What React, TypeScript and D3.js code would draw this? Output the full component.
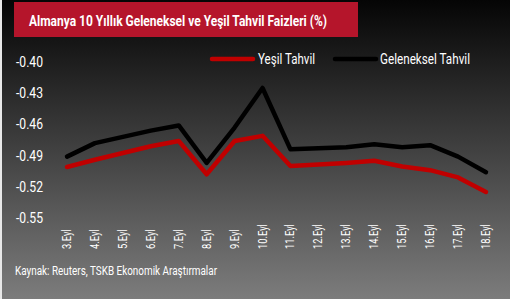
import React from "react";
import * as d3 from "d3";

const categories = ["3.Eyl","4.Eyl","5.Eyl","6.Eyl","7.Eyl","8.Eyl","9.Eyl","10.Eyl","11.Eyl","12.Eyl","13.Eyl","14.Eyl","15.Eyl","16.Eyl","17.Eyl","18.Eyl"];
const yesil = [-0.501,-0.494,-0.4875,-0.481,-0.476,-0.508,-0.476,-0.471,-0.500,-0.4985,-0.497,-0.495,-0.5005,-0.504,-0.511,-0.525];
const geleneksel = [-0.491,-0.478,-0.472,-0.466,-0.461,-0.497,-0.463,-0.425,-0.484,-0.483,-0.482,-0.479,-0.482,-0.480,-0.491,-0.506];
const yTicks = [-0.40,-0.43,-0.46,-0.49,-0.52,-0.55];
const title = "Almanya 10 Yıllık Geleneksel ve Yeşil Tahvil Faizleri (%)";
const source = "Kaynak: Reuters, TSKB Ekonomik Araştırmalar";
const seriesNames = ["Yeşil Tahvil", "Geleneksel Tahvil"];

const W = 510, H = 299;
const FONT = "Roboto, 'Liberation Sans', sans-serif";

export default function App() {
  const x = d3.scalePoint<string>().domain(categories).range([67, 486]);
  const y = d3.scaleLinear().domain([-0.55, -0.40]).range([218, 62]);
  const line = d3.line<number>().x((_, i) => x(categories[i])!).y(d => y(d));
  return (
    <svg width={W} height={H} style={{ position: "absolute", left: 0, top: 0, display: "block" }}>
      <defs>
        <linearGradient id="bg" x1="0" y1="0" x2="0" y2="1">
          <stop offset="0" stopColor="#050505" />
          <stop offset="1" stopColor="#7c7c7c" />
        </linearGradient>
      </defs>
      <rect x={0} y={0} width={W} height={H} fill="url(#bg)" />
      <rect x={0} y={0} width={2} height={H} fill="#e8e8e8" />
      <rect x={14} y={2} width={344} height={35} fill="#b5152b" />
      <text x={29} y={26} fill="#fff" fontFamily={FONT} fontWeight="bold" fontSize={15} textLength={298} lengthAdjust="spacingAndGlyphs">{title}</text>
      {yTicks.map(t => (
        <text key={t} x={16} y={y(t) + 5} fill="#fff" fontFamily={FONT} fontSize={14} textLength={27} lengthAdjust="spacingAndGlyphs">{t.toFixed(2)}</text>
      ))}
      {categories.map(c => (
        <text key={c} transform={`translate(${x(c)! + 4},249) rotate(-90) scale(0.78,1)`} textAnchor="start" fill="#fff" fontFamily={FONT} fontSize={12}>{c}</text>
      ))}
      <path d={line(geleneksel)!} fill="none" stroke="#000" strokeWidth={4.5} strokeLinecap="round" strokeLinejoin="round" />
      <path d={line(yesil)!} fill="none" stroke="#c00000" strokeWidth={4.5} strokeLinecap="round" strokeLinejoin="round" />
      <line x1={212} x2={253} y1={59} y2={59} stroke="#c00000" strokeWidth={4.5} strokeLinecap="round" />
      <text x={258} y={64} fill="#fff" fontFamily={FONT} fontSize={15} textLength={57} lengthAdjust="spacingAndGlyphs">{seriesNames[0]}</text>
      <line x1={335} x2={376} y1={59} y2={59} stroke="#000" strokeWidth={4.5} strokeLinecap="round" />
      <text x={380} y={64} fill="#fff" fontFamily={FONT} fontSize={15} textLength={90} lengthAdjust="spacingAndGlyphs">{seriesNames[1]}</text>
      <text x={15} y={275} fill="#fff" fontFamily={FONT} fontSize={12} textLength={202} lengthAdjust="spacingAndGlyphs">{source}</text>
    </svg>
  );
}
